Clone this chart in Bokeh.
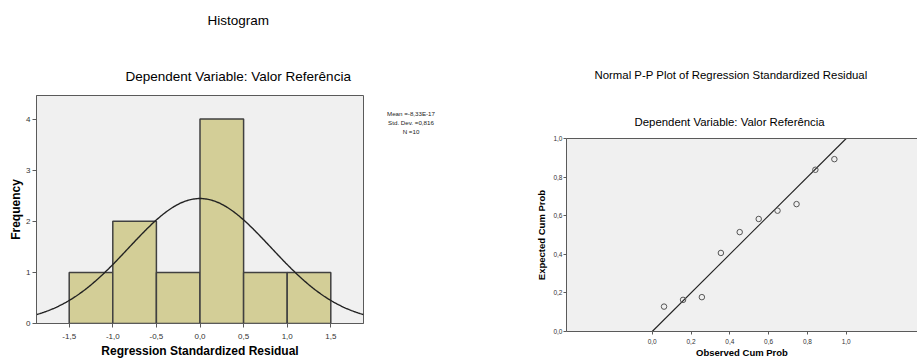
import numpy as np
from bokeh.plotting import figure
from bokeh.models import Range1d, FixedTicker, CustomJSTickFormatter, Title, LinearAxis, Plot
from bokeh.layouts import row, column
from bokeh.embed import file_html
from bokeh.resources import INLINE

# ---------------- data ----------------
# Histogram of regression standardized residuals
bin_left = [-1.5, -1.0, -0.5, 0.0, 0.5, 1.0]
bin_right = [-1.0, -0.5, 0.0, 0.5, 1.0, 1.5]
frequency = [1, 2, 1, 4, 1, 1]
resid_mean = -8.33e-17
resid_sd = 0.816
n_obs = 10
hist_x_ticks = [-1.5, -1.0, -0.5, 0.0, 0.5, 1.0, 1.5]
hist_y_ticks = [0, 1, 2, 3, 4]
stats_lines = ["Mean =-8,33E-17", "Std. Dev. =0,816", "N =10"]

# Normal P-P plot
observed_cum_prob = [0.061, 0.159, 0.256, 0.354, 0.451, 0.549, 0.646, 0.744, 0.841, 0.939]
expected_cum_prob = [0.129, 0.164, 0.178, 0.407, 0.515, 0.583, 0.626, 0.660, 0.838, 0.893]
reference_line = [0.0, 1.0]
pp_ticks = [0.0, 0.2, 0.4, 0.6, 0.8, 1.0]

FONT = "Liberation Sans"
FRAME = "#5a5a5a"
HAS_FA = "frame_align" in Plot.properties()


def comma_fmt():
    return CustomJSTickFormatter(code="return tick.toFixed(1).replace('.', ',');")


def make_fig(**kw):
    extra = {"frame_align": False} if HAS_FA else {}
    p = figure(output_backend="svg", toolbar_location=None, **extra, **kw)
    p.border_fill_color = "white"
    return p


def blank_fig(**kw):
    p = make_fig(x_range=Range1d(0, 1), y_range=Range1d(0, 1),
                 x_axis_type=None, y_axis_type=None, **kw)
    p.background_fill_color = "white"
    p.outline_line_color = None
    p.grid.visible = False
    return p


def style_axis(ax, tick_size, label_size, tick_out, lab_standoff, axlab_standoff):
    ax.axis_line_color = FRAME
    ax.major_tick_line_color = FRAME
    ax.minor_tick_line_color = None
    ax.major_tick_in = 0
    ax.major_tick_out = tick_out
    ax.major_label_text_font = FONT
    ax.major_label_text_font_size = tick_size
    ax.major_label_text_color = "#333333"
    ax.major_label_standoff = lab_standoff
    ax.axis_label_text_font = FONT
    ax.axis_label_text_font_style = "bold"
    ax.axis_label_text_font_size = label_size
    ax.axis_label_text_color = "black"
    ax.axis_label_standoff = axlab_standoff


def style_title(t, text, size, offset, standoff, align="left", color="black"):
    t.text = text
    t.text_font = FONT
    t.text_font_style = "normal"
    t.text_font_size = size
    t.text_color = color
    t.align = align
    t.offset = offset
    t.standoff = standoff


# ---------------- "Histogram" heading ----------------
ph = blank_fig(width=380, height=40, min_border_left=0, min_border_right=0,
               min_border_top=30, min_border_bottom=0)
style_title(ph.title, "Histogram", "13.5px", 207, 6)

# ---------------- histogram ----------------
p1 = make_fig(width=380, height=320,
              x_range=Range1d(-1.875, 1.875), y_range=Range1d(0, 4.46),
              min_border_left=36, min_border_right=17, min_border_top=55, min_border_bottom=34)
p1.background_fill_color = "#F0F0F0"
p1.outline_line_color = FRAME
p1.grid.visible = False
style_title(p1.title, "Dependent Variable: Valor Referência", "13.5px", 89, 24)

p1.quad(left=bin_left, right=bin_right, bottom=0, top=frequency,
        fill_color="#D3CE97", line_color="#404040", line_width=1.5)

xs = np.linspace(-1.875, 1.875, 300)
ys = n_obs * 0.5 * np.exp(-0.5 * ((xs - resid_mean) / resid_sd) ** 2) / (resid_sd * np.sqrt(2 * np.pi))
p1.line(xs, ys, line_color="#222222", line_width=1.4)

p1.xaxis.ticker = FixedTicker(ticks=hist_x_ticks)
p1.xaxis.formatter = comma_fmt()
p1.yaxis.ticker = FixedTicker(ticks=hist_y_ticks)
p1.xaxis.axis_label = "Regression Standardized Residual"
p1.yaxis.axis_label = "Frequency"
style_axis(p1.xaxis[0], "8px", "12px", 4, 6, 2)
style_axis(p1.yaxis[0], "8px", "12px", 4, 2, 0)

# ---------------- statistics box (one centred line per title) ----------------
ps = blank_fig(width=100, height=360, min_border_left=0, min_border_right=39,
               min_border_top=134, min_border_bottom=0)
style_title(ps.title, stats_lines[0], "6.2px", 0, -0.5, align="center", color="#222222")
for line in reversed(stats_lines[1:]):
    ps.add_layout(Title(text=line, text_font=FONT, text_font_style="normal",
                        text_font_size="6.2px", text_color="#222222",
                        align="center", standoff=-0.5), "above")

# ---------------- P-P plot ----------------
p2 = make_fig(width=437, height=360,
              x_range=Range1d(-0.4418, 1.3675), y_range=Range1d(0, 1),
              min_border_left=86, min_border_right=0, min_border_top=138, min_border_bottom=28)
p2.background_fill_color = "#F0F0F0"
p2.outline_line_color = None
p2.grid.visible = False

top_ax = LinearAxis(ticker=FixedTicker(ticks=[]), axis_line_color=FRAME,
                    major_tick_out=0, major_tick_in=0, minor_tick_out=0, minor_tick_in=0,
                    major_label_text_font_size="0px")
p2.add_layout(top_ax, "above")
style_title(p2.title, "Normal P-P Plot of Regression Standardized Residual", "11.4px", 28, 44)
p2.add_layout(Title(text="Dependent Variable: Valor Referência", text_font=FONT,
                    text_font_style="normal", text_font_size="11.4px", text_color="black",
                    align="left", offset=68, standoff=22), "above")

p2.line(reference_line, reference_line, line_color="#222222", line_width=1.1)
p2.scatter(observed_cum_prob, expected_cum_prob, marker="circle", size=5.5,
           fill_color=None, line_color="#555555", line_width=1)

bx = p2.below[0]
ly = p2.left[0]
bx.ticker = FixedTicker(ticks=pp_ticks)
ly.ticker = FixedTicker(ticks=pp_ticks)
bx.formatter = comma_fmt()
ly.formatter = comma_fmt()
bx.axis_label = "Observed Cum Prob"
ly.axis_label = "Expected Cum Prob"
style_axis(bx, "6.5px", "9.5px", 3, 4, 0)
style_axis(ly, "6.5px", "9.5px", 3, 1, 3)

layout = row(column(ph, p1, spacing=0), ps, p2, spacing=0)
open("out.html", "w").write(file_html(layout, INLINE))
